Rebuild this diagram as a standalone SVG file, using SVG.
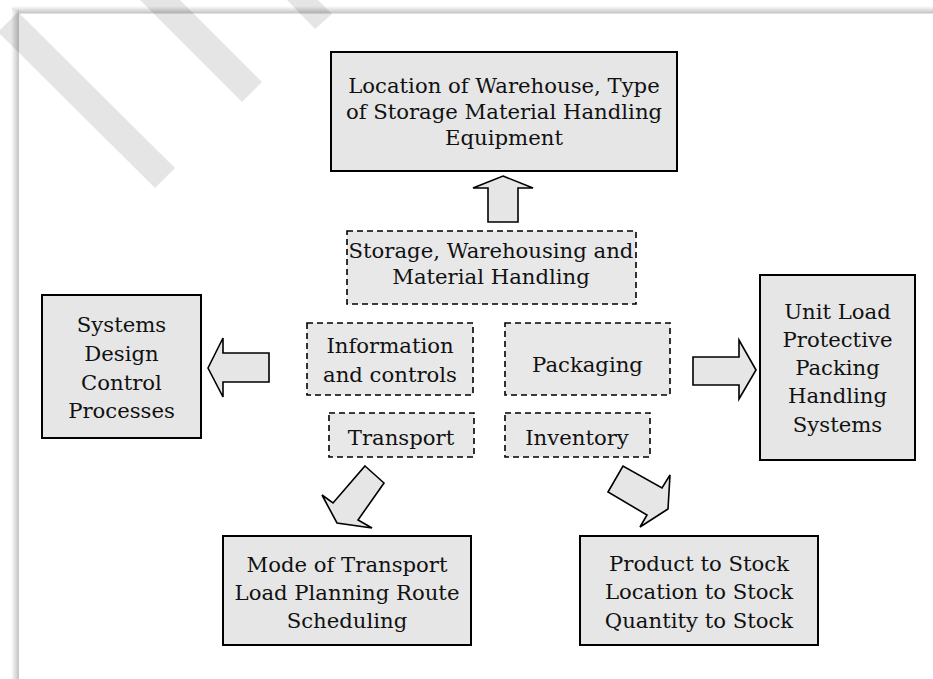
<svg xmlns="http://www.w3.org/2000/svg" width="933" height="679" viewBox="0 0 933 679">
<style>
.box{fill:#e6e6e6;stroke:#000;stroke-width:2}
.dbox{fill:#e8e8e8;stroke:#000;stroke-width:1.6;stroke-dasharray:6 4}
.arr{fill:#e6e6e6;stroke:#000;stroke-width:1.6;stroke-linejoin:miter}
.t{font-family:"DejaVu Serif","Liberation Serif",serif;font-size:21.2px;fill:#111;text-anchor:middle}
.stripe{fill:#000;fill-opacity:0.1}
</style>
<defs>
<linearGradient id="gTop" x1="0" y1="0" x2="0" y2="1">
<stop offset="0" stop-color="#fff"/>
<stop offset="1" stop-color="#c2c2c2"/>
</linearGradient>
<linearGradient id="gLeft" x1="0" y1="0" x2="1" y2="0">
<stop offset="0" stop-color="#fff"/>
<stop offset="1" stop-color="#c2c2c2"/>
</linearGradient>
</defs>
<rect x="0" y="0" width="933" height="679" fill="#fff"/>
<g id="page-shadow">
<rect x="12" y="6" width="921" height="7.5" fill="url(#gTop)"/>
<rect x="11" y="10" width="8" height="669" fill="url(#gLeft)"/>
</g>
<g id="watermark">
<polygon class="stripe" points="18,12 175,168 155,188 -2,32"/>
<polygon class="stripe" points="140,0 180,0 262,82 242,102"/>
<polygon class="stripe" points="287,0 318,0 332,14 315,29"/>
</g>
<g id="connectors">
<polygon class="arr" points="503,176 533,188 518,188 518,222 488,222 488,188 473,188"/>
<polygon class="arr" points="208,368 223,338 223,353 269,353 269,382 223,382 223,397"/>
<polygon class="arr" points="756,370 739,340 739,357 693,357 693,385 739,385 739,399"/>
<polygon class="arr" points="365,466 384,483 358,520 372,528 337,523 322,495 333,503"/>
<polygon class="arr" points="608,492 623,466 662,488 670,475 668,509 640,527 647,515"/>
</g>
<g id="warehouse">
<rect class="box" x="331" y="52" width="346" height="119"/>
<text class="t" x="504" y="93">Location of Warehouse, Type</text>
<text class="t" x="504" y="119">of Storage Material Handling</text>
<text class="t" x="504" y="145">Equipment</text>
</g>
<g id="storage">
<rect class="dbox" x="347" y="231" width="289" height="73"/>
<text class="t" x="491" y="258">Storage, Warehousing and</text>
<text class="t" x="491" y="284">Material Handling</text>
</g>
<g id="information">
<rect class="dbox" x="307" y="323" width="166" height="72"/>
<text class="t" x="390" y="353">Information</text>
<text class="t" x="390" y="382">and controls</text>
</g>
<g id="packaging">
<rect class="dbox" x="505" y="323" width="165" height="72"/>
<text class="t" x="587.5" y="372">Packaging</text>
</g>
<g id="transport">
<rect class="dbox" x="329" y="413" width="145" height="44"/>
<text class="t" x="401" y="445">Transport</text>
</g>
<g id="inventory">
<rect class="dbox" x="505" y="413" width="145" height="44"/>
<text class="t" x="577" y="445">Inventory</text>
</g>
<g id="systems">
<rect class="box" x="42" y="295" width="159" height="143"/>
<text class="t" x="121.5" y="332">Systems</text>
<text class="t" x="121.5" y="361">Design</text>
<text class="t" x="121.5" y="390">Control</text>
<text class="t" x="121.5" y="418">Processes</text>
</g>
<g id="unitload">
<rect class="box" x="760" y="275" width="155" height="185"/>
<text class="t" x="837.5" y="319">Unit Load</text>
<text class="t" x="837.5" y="347">Protective</text>
<text class="t" x="837.5" y="375">Packing</text>
<text class="t" x="837.5" y="403">Handling</text>
<text class="t" x="837.5" y="432">Systems</text>
</g>
<g id="mode">
<rect class="box" x="223" y="536" width="248" height="109"/>
<text class="t" x="347" y="572">Mode of Transport</text>
<text class="t" x="347" y="600">Load Planning Route</text>
<text class="t" x="347" y="628">Scheduling</text>
</g>
<g id="product">
<rect class="box" x="580" y="536" width="238" height="109"/>
<text class="t" x="699" y="571">Product to Stock</text>
<text class="t" x="699" y="599">Location to Stock</text>
<text class="t" x="699" y="628">Quantity to Stock</text>
</g>
</svg>
